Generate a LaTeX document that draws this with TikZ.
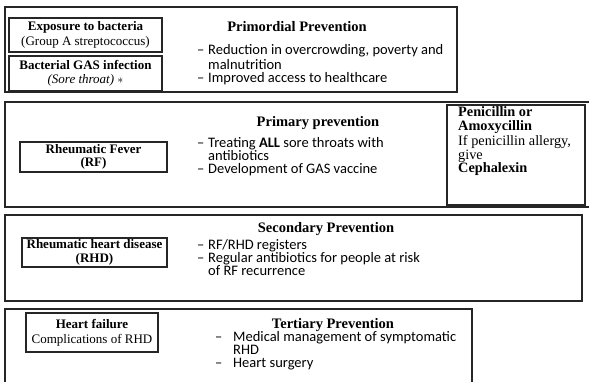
\documentclass[tikz,border=0pt]{standalone}
\usepackage{fontspec}
\setmainfont{Liberation Serif}
\newfontfamily\bodyfnt{Carlito}
\begin{document}
\begin{tikzpicture}[x=1pt,y=-1pt,
  outer/.style={draw=black!85,line width=1.5pt},
  inner/.style={draw=black!85,line width=1.3pt,inner sep=0pt,align=center,font=\fontsize{13}{14.5}\selectfont},
  ttl/.style={font=\fontsize{14.5}{16}\selectfont\bfseries,inner sep=0pt},
  bl/.style={font=\bodyfnt\fontsize{14.5}{16}\selectfont,anchor=west,inner sep=0pt,text height=8pt,text depth=2pt},
  pl/.style={font=\fontsize{14.3}{16}\selectfont,anchor=base west,inner sep=0pt},
]
\useasboundingbox (0,0) rectangle (589,382);
% Primordial
\draw[outer] (5,7) rectangle (457,92);
\node[inner,minimum width=153pt,minimum height=34pt] (exp) at (85.5,35) {\textbf{Exposure to bacteria}\\(Group A streptococcus)};
\node[inner,minimum width=153pt,minimum height=35pt,font=\fontsize{13}{13.5}\selectfont] (gas) at (85.5,73.5) {\textbf{Bacterial GAS infection}\\\textit{(Sore throat)} $*$};
\node[ttl] (t1) at (297,27) {Primordial Prevention};
\node[bl] (d1a) at (197,52) {–};
\node[bl] (b1a) at (208,52) {Reduction in overcrowding, poverty and};
\node[bl] (b1b) at (208,67) {malnutrition};
\node[bl] (d1b) at (197,80) {–};
\node[bl] (b1c) at (208,80) {Improved access to healthcare};
% Primary
\draw[outer] (589,102) -- (5,102) -- (5,207) -- (589,207);
\node[inner,minimum width=147pt,minimum height=30pt,font=\fontsize{13}{13.5}\selectfont] (rf) at (93.5,157) {\textbf{Rheumatic Fever}\\\textbf{(RF)}};
\node[ttl] (t2) at (318,123) {Primary prevention};
\node[bl] (d2a) at (197,145) {–};
\node[bl] (b2a) at (208,145) {Treating \textbf{ALL} sore throats with};
\node[bl] (b2b) at (208,158) {antibiotics};
\node[bl] (d2b) at (197,171) {–};
\node[bl] (b2c) at (208,171) {Development of GAS vaccine};
\node[draw=black!85,line width=1.3pt,minimum width=138pt,minimum height=100pt,inner sep=0pt] (pbox) at (516,155) {};
\node[pl] (p1) at (458,117) {\textbf{Penicillin or}};
\node[pl] (p2) at (458,131) {\textbf{Amoxycillin}};
\node[pl] (p3) at (458,146) {If penicillin allergy,};
\node[pl] (p4) at (458,160) {give};
\node[pl] (p5) at (458,173) {\textbf{Cephalexin}};
% Secondary
\draw[outer] (5,215) rectangle (582,301);
\node[inner,minimum width=145pt,minimum height=29pt,font=\fontsize{13}{14}\selectfont] (rhd) at (94.5,252.5) {\textbf{Rheumatic heart disease}\\\textbf{(RHD)}};
\node[ttl] (t3) at (326,229) {Secondary Prevention};
\node[bl] (d3a) at (197,246) {–};
\node[bl] (b3a) at (208,246) {RF/RHD registers};
\node[bl] (d3b) at (197,259) {–};
\node[bl] (b3b) at (208,259) {Regular antibiotics for people at risk};
\node[bl] (b3c) at (208,272.5) {of RF recurrence};
% Tertiary
\draw[outer] (5,384) -- (5,309) -- (472,309) -- (472,384);
\node[inner,minimum width=132pt,minimum height=39pt,font=\fontsize{13}{15}\selectfont] (hf) at (92,332.5) {\textbf{Heart failure}\\Complications of RHD};
\node[ttl] (t4) at (333,325) {Tertiary Prevention};
\node[bl] (d4a) at (215,338) {–};
\node[bl] (b4a) at (233,338) {Medical management of symptomatic};
\node[bl] (b4b) at (233,351) {RHD};
\node[bl] (d4b) at (215,364) {–};
\node[bl] (b4c) at (233,364) {Heart surgery};
\end{tikzpicture}
\end{document}
